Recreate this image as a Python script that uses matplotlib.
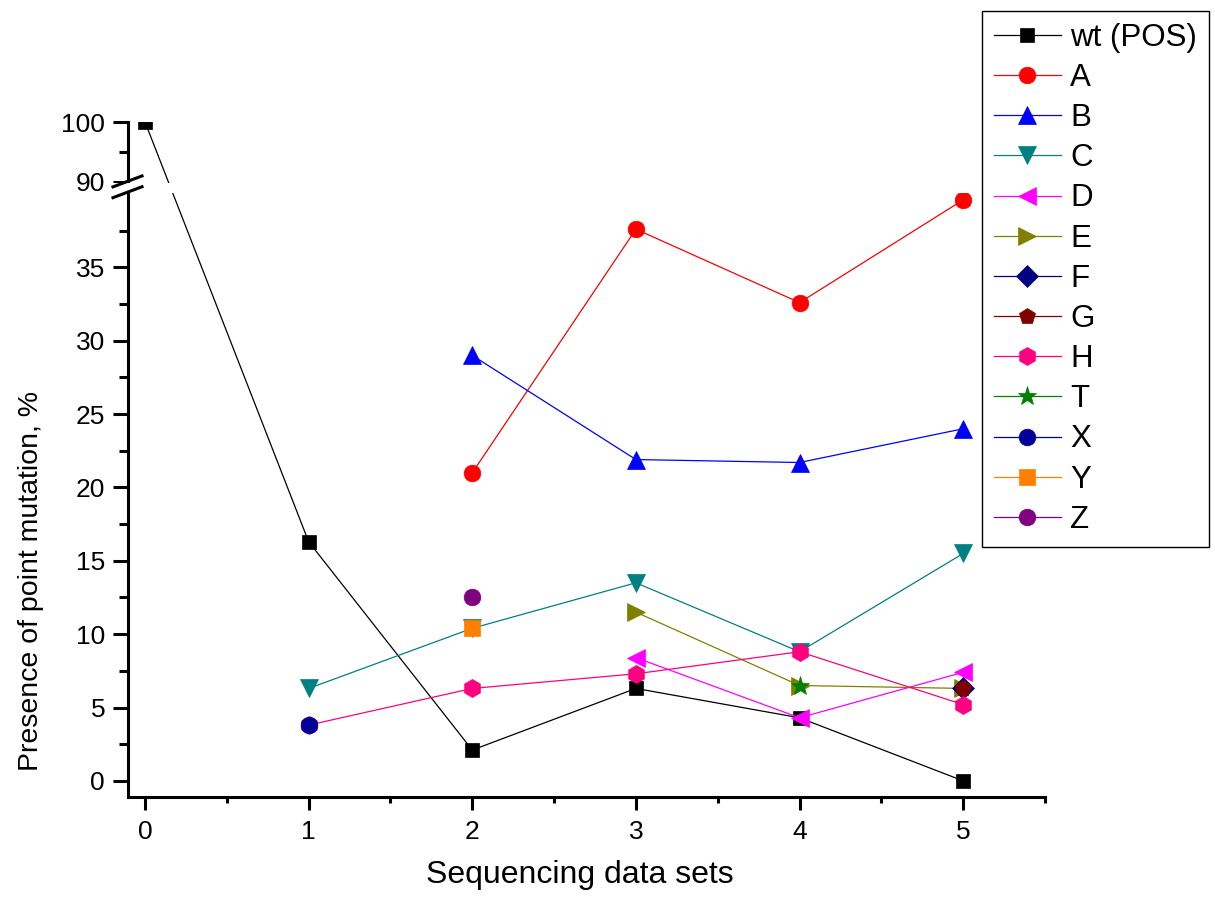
import numpy as np
import matplotlib
matplotlib.use("Agg")
import matplotlib.pyplot as plt
from matplotlib.lines import Line2D

nan = np.nan

# sequencing data sets 0..5
sets = [0, 1, 2, 3, 4, 5]

# presence of point mutation, % (nan = not found in that set)
wt = [100, 16.3, 2.1, 6.3, 4.3, 0.0]
mut_A = [nan, nan, 21.0, 37.6, 32.6, 39.6]
mut_B = [nan, nan, 29.0, 21.9, 21.7, 24.0]
mut_C = [nan, 6.3, 10.4, 13.5, 8.8, 15.5]
mut_D = [nan, nan, nan, 8.4, 4.3, 7.4]
mut_E = [nan, nan, nan, 11.5, 6.5, 6.3]
mut_F = [nan, nan, nan, nan, nan, 6.3]
mut_G = [nan, nan, nan, nan, nan, 6.3]
mut_H = [nan, 3.8, 6.3, 7.3, 8.8, 5.2]
mut_T = [nan, nan, nan, nan, 6.5, nan]
mut_X = [nan, 3.8, nan, nan, nan, nan]
mut_Y = [nan, nan, 10.4, nan, nan, nan]
mut_Z = [nan, nan, 12.5, nan, nan, nan]

labels = ["wt (POS)", "A", "B", "C", "D", "E", "F", "G", "H", "T", "X", "Y", "Z"]
series = [wt, mut_A, mut_B, mut_C, mut_D, mut_E, mut_F, mut_G, mut_H,
          mut_T, mut_X, mut_Y, mut_Z]
colors = ["#000000", "#ff0000", "#0000ff", "#008080", "#ff00ff", "#808000",
          "#000080", "#800000", "#ff0080", "#008000", "#000099", "#ff8000",
          "#800080"]
markers = ["s", "o", "^", "v", "<", ">", "D", "p", "h", "*", "o", "s", "o"]
msizes = [10, 12, 13, 13, 13, 13, 11, 12, 13, 14, 12, 11, 12]

# broken y axis: 0..40 then 88..100 squeezed on top
lo, hi = 40.0, 88.0
k_up = 6.0 / 14.68
eps = 0.005


def fwd(y):
    y = np.asarray(y, dtype=float)
    return np.where(y <= lo, y,
                    np.where(y >= hi, lo + eps + (y - hi) * k_up,
                             lo + (y - lo) * eps / (hi - lo)))


def inv(u):
    u = np.asarray(u, dtype=float)
    return np.where(u <= lo, u,
                    np.where(u >= lo + eps, hi + (u - lo - eps) / k_up,
                             lo + (u - lo) * (hi - lo) / eps))


plt.rcParams['font.family'] = ['Liberation Sans', 'DejaVu Sans']

fig = plt.figure(figsize=(12.15, 9), dpi=100)
ax = fig.add_axes([128 / 1215, 1 - 797 / 900, 917 / 1215, 675 / 900])
ax.set_yscale('function', functions=(fwd, inv))

for ys, lab, c, m, ms in zip(series, labels, colors, markers, msizes):
    ax.plot(sets, ys, color=c, lw=0.9, marker=m, markersize=ms,
            markerfacecolor=c, markeredgecolor=c, markeredgewidth=0.5,
            label=lab)

ax.set_xlim(-0.104, 5.5)
ax.set_ylim(-1.1, 100)

ax.set_xticks([0, 1, 2, 3, 4, 5])
ax.set_xticks(np.arange(0.5, 5.6, 1.0), minor=True)
ax.set_yticks([0, 5, 10, 15, 20, 25, 30, 35, 90, 100])
ax.set_yticks(list(np.arange(2.5, 40, 5.0)) + [95], minor=True)

for s in ['top', 'right']:
    ax.spines[s].set_visible(False)
for s in ['left', 'bottom']:
    ax.spines[s].set_linewidth(2.2)

ax.tick_params(axis='x', which='major', direction='out', length=9.5, width=2.2,
               labelsize=19, pad=7)
ax.tick_params(axis='x', which='minor', direction='out', length=4.5, width=2.2)
ax.tick_params(axis='y', which='major', direction='out', length=10.5, width=2.2,
               labelsize=19, pad=6)
ax.tick_params(axis='y', which='minor', direction='out', length=6.5, width=2.2)

# white gap + break marks on the y axis
ax.axhspan(88.15, 89.85, xmin=-0.016, xmax=1.0, color='white', zorder=3,
           clip_on=False, lw=0)
for yc in (0.912, 0.896):
    ax.add_line(Line2D([-0.0164, 0.0153], [yc - 0.0081, yc + 0.0081],
                       transform=ax.transAxes, color='black', lw=2.2,
                       clip_on=False, zorder=4))

ax.set_xlabel("Sequencing data sets", fontsize=23)
ax.xaxis.set_label_coords(0.493, -0.094)
ax.set_ylabel("Presence of point mutation, %", fontsize=20.5)
ax.yaxis.set_label_coords(-0.092, 0.32)

leg = fig.legend(loc='upper left', bbox_to_anchor=(982 / 1215, 1 - 11 / 900),
                 fontsize=22.5, frameon=True, fancybox=False, framealpha=1,
                 edgecolor='black', borderaxespad=0, handlelength=2.15,
                 handletextpad=0.3, labelspacing=0.325, borderpad=0.38)
leg.get_frame().set_linewidth(1.0)

fig.savefig("out.png", dpi=100)
